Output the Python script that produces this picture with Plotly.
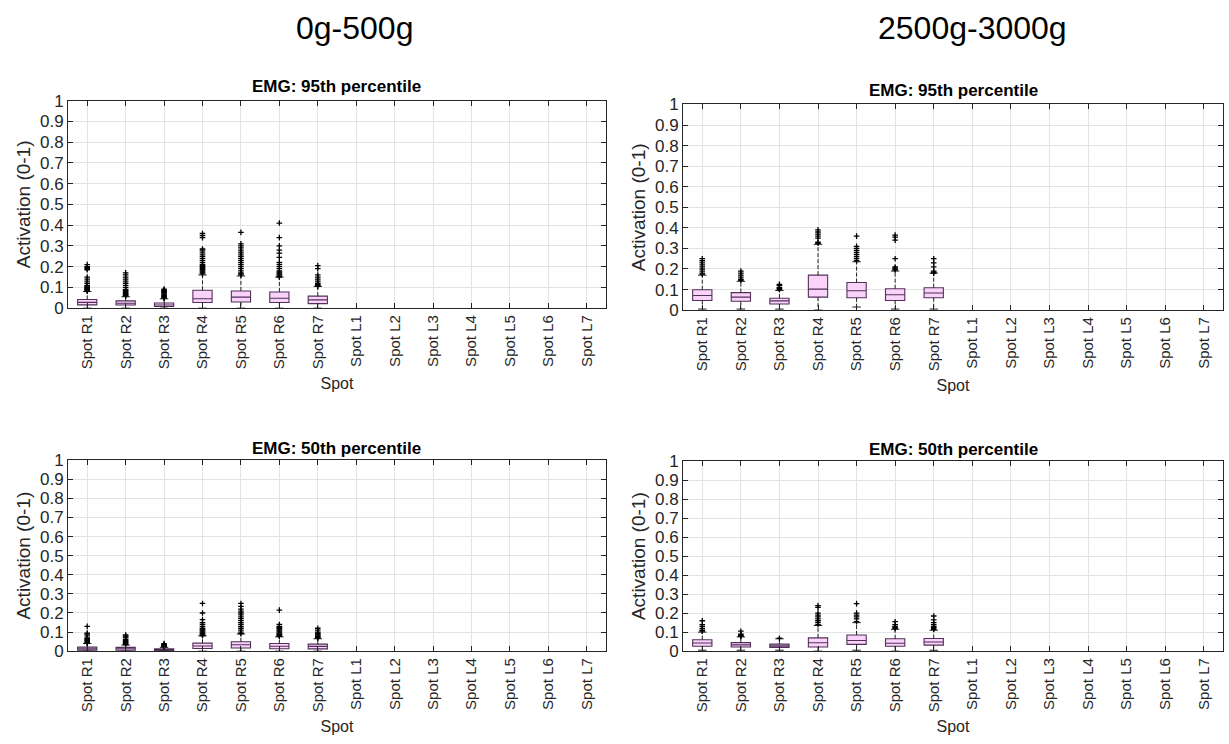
import plotly.graph_objects as go

categories = ["Spot R1", "Spot R2", "Spot R3", "Spot R4", "Spot R5", "Spot R6", "Spot R7",
              "Spot L1", "Spot L2", "Spot L3", "Spot L4", "Spot L5", "Spot L6", "Spot L7"]
y_ticks = [0, 0.1, 0.2, 0.3, 0.4, 0.5, 0.6, 0.7, 0.8, 0.9, 1]
y_tick_text = ["0", "0.1", "0.2", "0.3", "0.4", "0.5", "0.6", "0.7", "0.8", "0.9", "1"]

# Panel A: 0g-500g, 95th percentile
a_low = [0.0, 0.0, 0.0, 0.0, 0.0, 0.0, 0.0]
a_q1 = [0.016, 0.015, 0.008, 0.027, 0.030, 0.027, 0.022]
a_med = [0.028, 0.024, 0.015, 0.045, 0.053, 0.048, 0.040]
a_q3 = [0.042, 0.035, 0.025, 0.086, 0.083, 0.078, 0.058]
a_up = [0.080, 0.055, 0.045, 0.160, 0.155, 0.150, 0.105]
a_out = [
    [0.082, 0.085, 0.088, 0.09, 0.093, 0.096, 0.10, 0.103, 0.106, 0.11, 0.12, 0.13, 0.14, 0.15, 0.185, 0.19, 0.195, 0.20, 0.21],
    [0.058, 0.062, 0.066, 0.07, 0.075, 0.08, 0.085, 0.09, 0.10, 0.11, 0.12, 0.13, 0.14, 0.15, 0.16, 0.17],
    [0.048, 0.052, 0.056, 0.06, 0.064, 0.068, 0.072, 0.076, 0.08, 0.084, 0.088, 0.092],
    [0.165, 0.17, 0.175, 0.18, 0.185, 0.19, 0.195, 0.20, 0.205, 0.21, 0.22, 0.23, 0.24, 0.25, 0.26, 0.27, 0.28, 0.285, 0.34, 0.35, 0.36],
    [0.16, 0.165, 0.17, 0.18, 0.19, 0.20, 0.21, 0.22, 0.23, 0.24, 0.25, 0.26, 0.27, 0.28, 0.29, 0.30, 0.31, 0.365],
    [0.15, 0.155, 0.16, 0.165, 0.17, 0.175, 0.18, 0.19, 0.20, 0.21, 0.22, 0.245, 0.265, 0.28, 0.30, 0.34, 0.41],
    [0.105, 0.11, 0.115, 0.12, 0.13, 0.14, 0.15, 0.16, 0.19, 0.205],
]

# Panel B: 2500g-3000g, 95th percentile
b_low = [0.005, 0.005, 0.005, 0.0, 0.015, 0.005, 0.005]
b_q1 = [0.047, 0.043, 0.030, 0.063, 0.060, 0.047, 0.060]
b_med = [0.071, 0.063, 0.045, 0.102, 0.094, 0.075, 0.083]
b_q3 = [0.099, 0.085, 0.058, 0.170, 0.134, 0.104, 0.109]
b_up = [0.170, 0.140, 0.095, 0.320, 0.235, 0.190, 0.180]
b_out = [
    [0.175, 0.18, 0.19, 0.20, 0.21, 0.22, 0.23, 0.24, 0.25],
    [0.145, 0.15, 0.16, 0.17, 0.18, 0.19],
    [0.10, 0.105, 0.11, 0.12, 0.125],
    [0.325, 0.33, 0.35, 0.36, 0.37, 0.38, 0.39],
    [0.24, 0.25, 0.26, 0.27, 0.28, 0.29, 0.30, 0.31, 0.36],
    [0.195, 0.20, 0.205, 0.21, 0.25, 0.34, 0.355, 0.365],
    [0.18, 0.185, 0.19, 0.21, 0.23, 0.25],
]

# Panel C: 0g-500g, 50th percentile
c_low = [0.0, 0.0, 0.0, 0.0, 0.0, 0.0, 0.0]
c_q1 = [0.005, 0.005, 0.003, 0.014, 0.017, 0.013, 0.012]
c_med = [0.012, 0.013, 0.007, 0.027, 0.034, 0.026, 0.025]
c_q3 = [0.021, 0.020, 0.012, 0.042, 0.049, 0.040, 0.037]
c_up = [0.040, 0.032, 0.020, 0.080, 0.090, 0.075, 0.065]
c_out = [
    [0.042, 0.045, 0.05, 0.055, 0.06, 0.065, 0.07, 0.08, 0.09, 0.095, 0.13],
    [0.035, 0.04, 0.045, 0.05, 0.055, 0.06, 0.07, 0.075, 0.08, 0.085],
    [0.022, 0.025, 0.028, 0.03, 0.033, 0.036, 0.04],
    [0.082, 0.085, 0.09, 0.095, 0.10, 0.105, 0.11, 0.115, 0.12, 0.13, 0.14, 0.15, 0.165, 0.20, 0.25],
    [0.092, 0.10, 0.11, 0.12, 0.13, 0.14, 0.15, 0.16, 0.17, 0.18, 0.19, 0.20, 0.21, 0.22, 0.235, 0.25],
    [0.078, 0.082, 0.086, 0.09, 0.095, 0.10, 0.105, 0.11, 0.115, 0.12, 0.125, 0.13, 0.14, 0.215],
    [0.068, 0.072, 0.076, 0.08, 0.085, 0.09, 0.095, 0.10, 0.11, 0.12],
]

# Panel D: 2500g-3000g, 50th percentile
d_low = [0.005, 0.005, 0.005, 0.0, 0.005, 0.0, 0.005]
d_q1 = [0.026, 0.022, 0.020, 0.022, 0.036, 0.026, 0.032]
d_med = [0.043, 0.033, 0.028, 0.044, 0.056, 0.042, 0.048]
d_q3 = [0.060, 0.045, 0.037, 0.070, 0.085, 0.065, 0.067]
d_up = [0.100, 0.075, 0.065, 0.135, 0.150, 0.115, 0.110]
d_out = [
    [0.105, 0.11, 0.12, 0.13, 0.14, 0.16],
    [0.078, 0.08, 0.085, 0.09, 0.105],
    [0.068],
    [0.14, 0.15, 0.16, 0.17, 0.18, 0.19, 0.20, 0.23, 0.24],
    [0.155, 0.17, 0.18, 0.19, 0.20, 0.25],
    [0.12, 0.125, 0.13, 0.14, 0.155],
    [0.115, 0.12, 0.125, 0.13, 0.14, 0.15, 0.165, 0.185],
]

panels = [
    ("x", "y", a_low, a_q1, a_med, a_q3, a_up, a_out),
    ("x2", "y2", b_low, b_q1, b_med, b_q3, b_up, b_out),
    ("x3", "y3", c_low, c_q1, c_med, c_q3, c_up, c_out),
    ("x4", "y4", d_low, d_q1, d_med, d_q3, d_up, d_out),
]

FONT = "Liberation Sans, Arial, sans-serif"
BOX_FILL = "rgba(250, 206, 250, 0.9)"
BOX_LINE = "#51305a"
BOX_W = 0.5
CAP_HALF = 0.11

fig = go.Figure()
for xa, ya, low, q1, med, q3, up, outs in panels:
    pos = list(range(len(q1)))
    # dashed whiskers
    wx, wy, cx, cy = [], [], [], []
    for i in pos:
        wx += [i, i, None, i, i, None]
        wy += [q3[i], up[i], None, q1[i], low[i], None]
        cx += [i - CAP_HALF, i + CAP_HALF, None, i - CAP_HALF, i + CAP_HALF, None]
        cy += [up[i], up[i], None, low[i], low[i], None]
    fig.add_trace(go.Scatter(
        x=wx, y=wy, mode="lines", xaxis=xa, yaxis=ya, showlegend=False, hoverinfo="skip",
        line=dict(color="#222222", width=1, dash="4px,2px"),
    ))
    fig.add_trace(go.Scatter(
        x=cx, y=cy, mode="lines", xaxis=xa, yaxis=ya, showlegend=False, hoverinfo="skip",
        line=dict(color="#222222", width=1),
    ))
    fig.add_trace(go.Box(
        x=pos, q1=q1, median=med, q3=q3, lowerfence=q1, upperfence=q3,
        xaxis=xa, yaxis=ya, width=BOX_W, whiskerwidth=0,
        fillcolor=BOX_FILL, line=dict(color=BOX_LINE, width=1.1),
        boxpoints=False, showlegend=False, hoverinfo="y",
    ))
    ox, oy = [], []
    for i, vals in enumerate(outs):
        ox += [i] * len(vals)
        oy += vals
    fig.add_trace(go.Scatter(
        x=ox, y=oy, mode="markers", xaxis=xa, yaxis=ya, showlegend=False,
        marker=dict(symbol="cross-thin", size=4, color="black",
                    line=dict(color="black", width=1.3)),
    ))

W, H = 1229, 744
def px_x(a, b):
    return [a / W, b / W]
def px_y(top, bottom):
    return [(H - bottom) / H, (H - top) / H]

domains = {
    "": (px_x(68, 606), px_y(94, 307)),
    "2": (px_x(683, 1223), px_y(98, 309)),
    "3": (px_x(68, 606), px_y(463, 659)),
    "4": (px_x(683, 1223), px_y(464, 659)),
}

axis_common = dict(showline=True, linecolor="#262626", linewidth=1, mirror="ticks",
                   ticks="inside", ticklen=5, tickcolor="#262626",
                   showgrid=True, gridcolor="#e3e3e3", gridwidth=1, zeroline=False)

for k, (dx, dy) in domains.items():
    fig.layout["xaxis" + k] = dict(
        domain=dx, anchor="y" + k, range=[-0.5, 13.5],
        tickmode="array", tickvals=list(range(len(categories))), ticktext=categories,
        tickangle=-90, tickfont=dict(family=FONT, size=15, color="#262626"),
        title=dict(text="Spot", font=dict(family=FONT, size=16, color="#262626"), standoff=9),
        **axis_common)
    fig.layout["yaxis" + k] = dict(
        domain=dy, anchor="x" + k, range=[0, 1],
        tickmode="array", tickvals=y_ticks, ticktext=y_tick_text,
        tickfont=dict(family=FONT, size=17, color="#262626"),
        title=dict(text="Activation (0-1)", font=dict(family=FONT, size=19, color="#262626"), standoff=4),
        **axis_common)

annotations = [
    dict(text="0g-500g", x=354 / W, y=1 - 20 / H, font=dict(size=32)),
    dict(text="2500g-3000g", x=972 / W, y=1 - 20 / H, font=dict(size=32)),
    dict(text="<b>EMG: 95th percentile</b>", x=337 / W, y=1 - 80 / H, font=dict(size=17)),
    dict(text="<b>EMG: 95th percentile</b>", x=953 / W, y=1 - 84 / H, font=dict(size=17)),
    dict(text="<b>EMG: 50th percentile</b>", x=337 / W, y=1 - 451 / H, font=dict(size=17)),
    dict(text="<b>EMG: 50th percentile</b>", x=953 / W, y=1 - 452 / H, font=dict(size=17)),
]
for a in annotations:
    a.update(xref="paper", yref="paper", showarrow=False, xanchor="center", yanchor="middle")
    a["font"].update(family=FONT, color="black")

fig.update_layout(
    width=W, height=H, margin=dict(l=0, r=0, t=0, b=0),
    paper_bgcolor="white", plot_bgcolor="white",
    annotations=annotations,
    font=dict(family=FONT, color="#262626"),
)

fig.write_html("out.html", config={"displayModeBar": False},
               post_script="document.body.style.margin='0';document.body.style.padding='0';")
